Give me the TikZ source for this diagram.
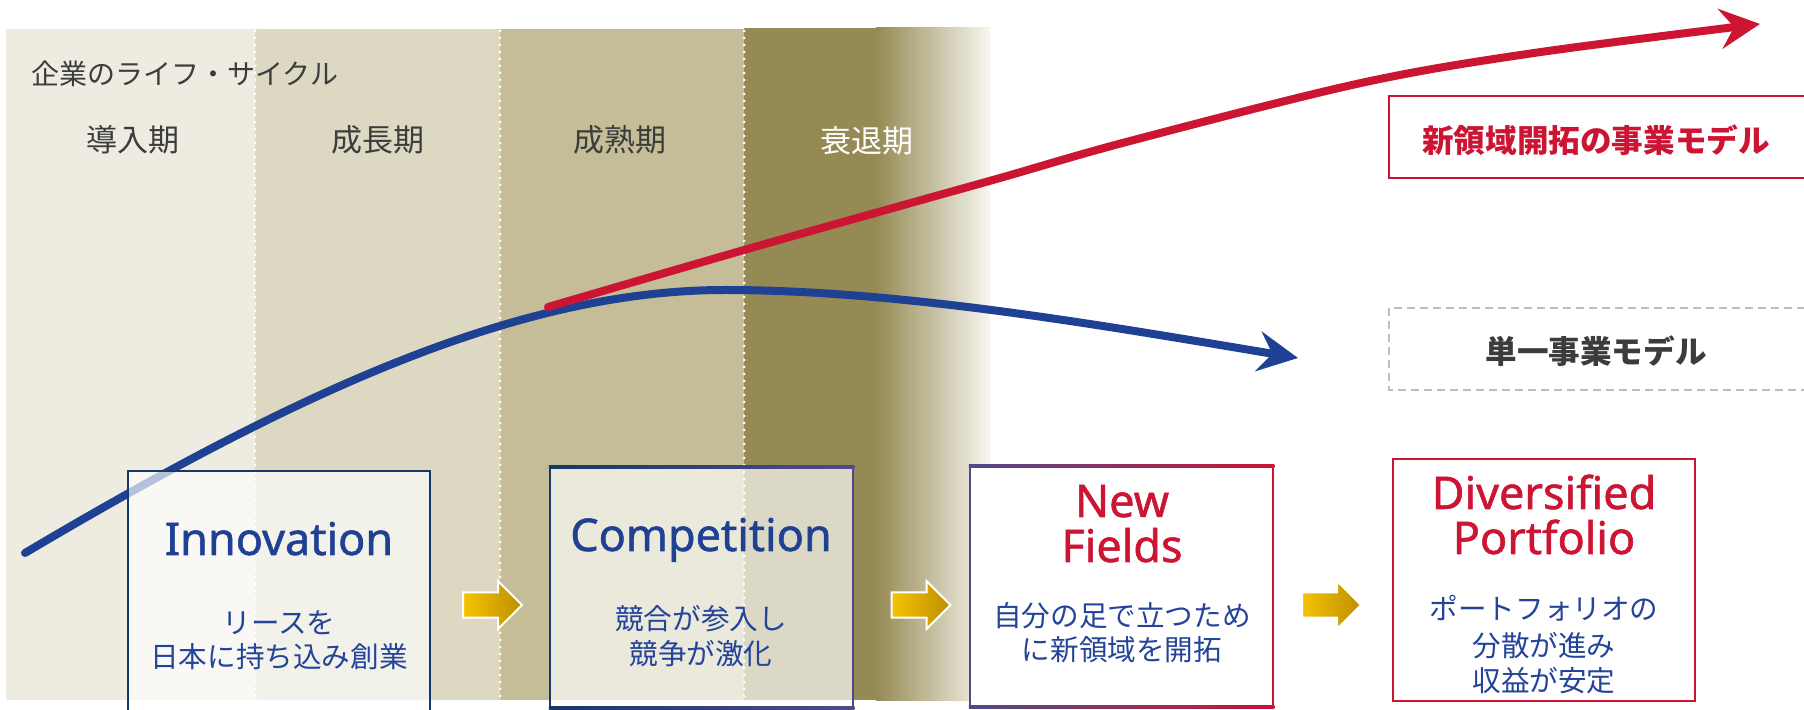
\documentclass[tikz,border=0pt]{standalone}
\usepackage{fontspec}
\setmainfont{Noto Sans CJK JP}
\newfontfamily\jp{Noto Sans CJK JP}
\newfontfamily\lat[FakeBold=1.2]{Noto Sans}
\usetikzlibrary{arrows.meta}
\definecolor{bandA}{HTML}{EEEBE0}
\definecolor{bandB}{HTML}{DDD8C1}
\definecolor{bandC}{HTML}{C5BD97}
\definecolor{bandD}{HTML}{958A53}
\definecolor{bandE}{HTML}{F7F6F0}
\definecolor{cblue}{HTML}{1F4194}
\definecolor{cred}{HTML}{CC1433}
\definecolor{navy}{HTML}{15396C}
\definecolor{purp}{HTML}{514A8A}
\definecolor{txtblue}{HTML}{24449A}
\definecolor{gtxt}{HTML}{3C3C3C}
\definecolor{dashgray}{HTML}{BDBDBD}
\definecolor{yA}{HTML}{F5C400}
\definecolor{yB}{HTML}{BE8E00}
\newcommand\gradframe[6]{%
  \shade[left color=#5,right color=#6] (#1-1.25,#2-1.25) rectangle (#3+1.25,#2+1.25);
  \shade[left color=#5,right color=#6] (#1-1.25,#4-1.25) rectangle (#3+1.25,#4+1.25);
  \fill[#5] (#1-1.25,#2-1.25) rectangle (#1+1.25,#4+1.25);
  \fill[#6] (#3-1.25,#2-1.25) rectangle (#3+1.25,#4+1.25);}
\tikzset{
  stage/.style={anchor=base, inner sep=0, font=\jp\fontsize{15.5}{18}\selectfont, text=gtxt},
  ttl/.style={anchor=base, inner sep=0, font=\lat\fontsize{22.5}{22.5}\selectfont},
  sub/.style={anchor=base, inner sep=0, font=\jp\fontsize{14.3}{17}\selectfont, text=txtblue},
  legend/.style={anchor=base, inner sep=0, font=\jp\bfseries\fontsize{15.8}{18}\selectfont},
  divider/.style={white, line width=1.5pt, line cap=round, dash pattern=on 0pt off 3.5pt},
  curve/.style={line width=4pt, line cap=round, -{Stealth[length=20pt,width=20pt,inset=7pt]}},
  yarrow/.pic={\shadedraw[left color=yA, right color=yB, draw=white, line width=1pt]
     (-29.5,-12.5) -- (5.5,-12.5) -- (5.5,-24) -- (29.5,0) -- (5.5,24) -- (5.5,12.5) -- (-29.5,12.5) -- cycle;}
}
\begin{document}
\begin{tikzpicture}[x=0.5pt,y=-0.5pt]
\useasboundingbox (0,0) rectangle (1804,710);
\clip (0,0) rectangle (1804,710);
% bands
\fill[bandA] (6,29) rectangle (255,700);
\fill[bandB] (255,29) rectangle (500,700);
\fill[bandC] (500,29) rectangle (744,700);
\fill[bandD] (744,28) rectangle (877,700);
\shade[left color=bandD, right color=bandE] (876,28) rectangle (990,700);
\draw[divider] (255,31) -- (255,700);
\draw[divider] (500,31) -- (500,700);
\draw[divider] (744,31) -- (744,700);
% labels
\node[anchor=base west, inner sep=0, font=\jp\fontsize{14}{17}\selectfont, text=gtxt] (lc) at (31,85) {企業のライフ・サイクル};
\node[stage] (s1) at (133,152) {導入期};
\node[stage] (s2) at (378,152) {成長期};
\node[stage] (s3) at (620,152) {成熟期};
\node[stage, text=white] (s4) at (867,153) {衰退期};
% curves
\coordinate (b0) at (25,553);
\coordinate (bp) at (725,290);
\coordinate (b1) at (1298,358);
\draw[curve, cblue] (b0) .. controls (300,390) and (520,290) .. (bp)
   .. controls (900,290) and (1100,325) .. (b1);
\draw[curve, cred] plot[smooth, tension=0.55] coordinates {(548,307) (744,250) (900,206) (1000,178) (1130,141) (1361,83) (1534,53) (1760,24)};
% boxes
\fill[white, opacity=0.67] (128,471) rectangle (430,720);
\draw[navy, line width=1.25pt] (128,720) -- (128,471) -- (430,471) -- (430,720);
\fill[white, opacity=0.67] (550,467) rectangle (853,708);
\gradframe{550}{467}{853}{708}{navy}{purp}
\fill[white] (970,466) rectangle (1273,707);
\gradframe{970}{466}{1273}{707}{purp}{cred}
\fill[white] (1393,459) rectangle (1695,701);
\draw[cred, line width=1.25pt] (1393,459) rectangle (1695,701);
% arrows
\pic at (492.5,605) {yarrow};
\pic at (921,605) {yarrow};
\pic at (1331.5,605) {yarrow};
% titles
\node[ttl, text=cblue] (t1) at (279,555) {Innovation};
\node[ttl, text=cblue] (t2) at (701,551) {Competition};
\node[ttl, text=cred] (t3a) at (1122,517) {New};
\node[ttl, text=cred] (t3b) at (1122,562) {Fields};
\node[ttl, text=cred] (t4a) at (1544,509) {Diversified};
\node[ttl, text=cred] (t4b) at (1544,554) {Portfolio};
% sub texts
\node[sub] (a1) at (279,633.5) {リースを};
\node[sub] (a2) at (279,668) {日本に持ち込み創業};
\node[sub] (b1) at (701,629.5) {競合が参入し};
\node[sub] (b2) at (701,664) {競争が激化};
\node[sub] (c1) at (1122,626) {自分の足で立つため};
\node[sub] (c2) at (1122,661) {に新領域を開拓};
\node[sub] (d1) at (1544,619) {ポートフォリオの};
\node[sub] (d2) at (1544,656) {分散が進み};
\node[sub] (d3) at (1544,691) {収益が安定};
% legend
\draw[cred, line width=1.25pt] (1389,96) rectangle (1840,178);
\node[legend, text=cred] (l1) at (1596,153) {新領域開拓の事業モデル};
\draw[dashgray, line width=1pt, dash pattern=on 4pt off 2.5pt] (1389,308) rectangle (1840,390);
\node[legend, text=gtxt] (l2) at (1596,364) {単一事業モデル};
\end{tikzpicture}
\end{document}
